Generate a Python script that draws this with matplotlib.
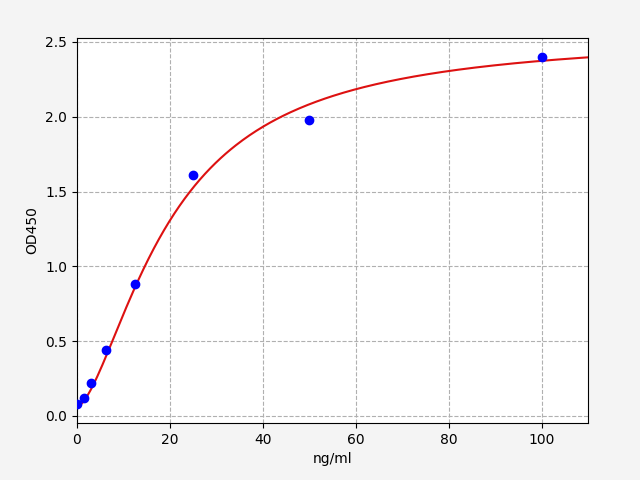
import numpy as np
import matplotlib
matplotlib.use("Agg")
import matplotlib.pyplot as plt

conc = [0, 1.56, 3.125, 6.25, 12.5, 25, 50, 100]
od = [0.08, 0.12, 0.22, 0.44, 0.88, 1.61, 1.98, 2.40]

# 4PL fit parameters (bottom, top, ec50, slope)
bottom, top, ec50, slope = 0.06, 2.55, 20.0, 1.6

xs = np.linspace(0, 110, 300)
ys = top - (top - bottom) / (1 + (xs / ec50) ** slope)

fig, ax = plt.subplots(figsize=(6.4, 4.8), dpi=100)
fig.subplots_adjust(left=0.12, right=0.919, top=0.921, bottom=0.119)
fig.patch.set_facecolor("#f4f4f4")
ax.plot(xs, ys, color="#dd1111", zorder=2)
ax.scatter(conc, od, color="blue", s=36, zorder=3)
ax.grid(True, linestyle="--", color="#b0b0b0")
ax.set_xlim(0, 110)
ax.set_ylim(-0.047, 2.527)
ax.set_xlabel("ng/ml")
ax.set_ylabel("OD450")
fig.savefig("out.png")
